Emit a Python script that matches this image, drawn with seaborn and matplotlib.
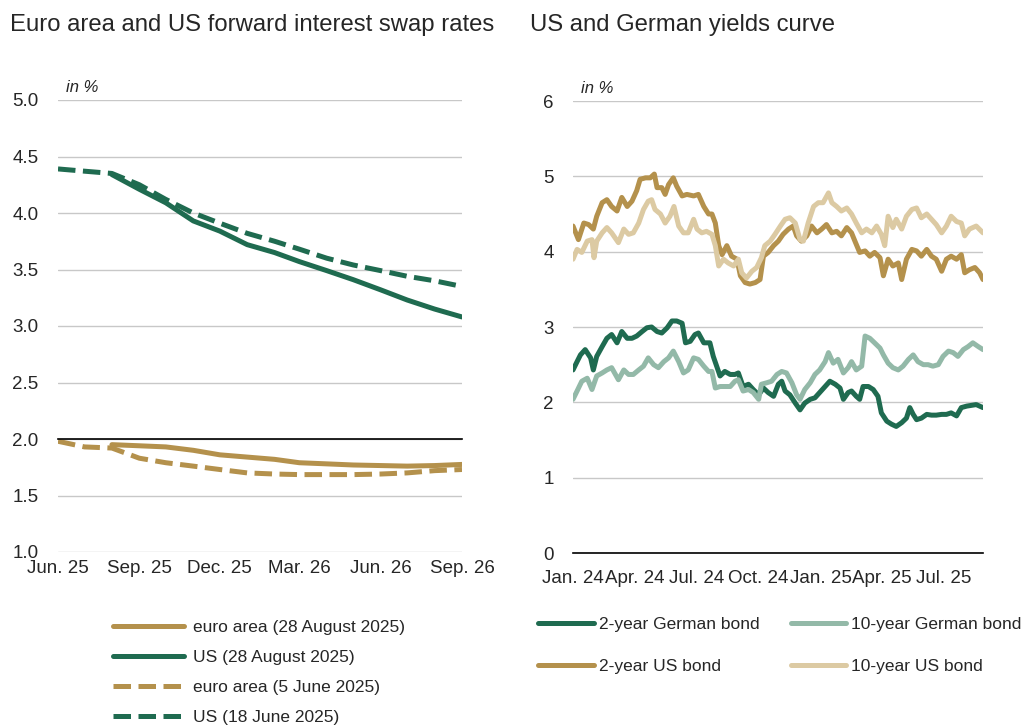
import pandas as pd
import numpy as np
import matplotlib
matplotlib.use('Agg')
import matplotlib.pyplot as plt
import matplotlib.dates as mdates
import seaborn as sns

sns.set_style('white')
plt.rcParams['font.family'] = ['Liberation Sans', 'DejaVu Sans']

GREEN = '#1f6b50'
GOLD = '#b4914c'
LGREEN = '#93b9a8'
BEIGE = '#dccaa3'

# --- left panel: forward swap rates (monthly) ---
months = pd.date_range('2025-06-01', '2026-09-01', freq='MS')
us_jun = [4.39, 4.37, 4.35, 4.25, 4.12, 4.00, 3.91, 3.82, 3.75, 3.68, 3.60, 3.54, 3.49, 3.44, 3.40, 3.35]
us_aug = [4.34, 4.21, 4.09, 3.93, 3.84, 3.72, 3.65, 3.57, 3.49, 3.41, 3.32, 3.23, 3.15, 3.08]
ea_jun = [1.98, 1.93, 1.92, 1.83, 1.79, 1.76, 1.73, 1.70, 1.69, 1.685, 1.685, 1.685, 1.69, 1.70, 1.72, 1.73]
ea_aug = [1.95, 1.94, 1.93, 1.90, 1.86, 1.84, 1.82, 1.79, 1.78, 1.77, 1.765, 1.76, 1.765, 1.775]

# --- right panel: bond yields (days since 1 Jan 2024, %) ---
us2_days = [0, 8, 16, 23, 30, 35, 43, 50, 57, 65, 72, 80, 87, 94, 99, 107, 114, 120, 124, 131,
            136, 141, 148, 153, 161, 168, 178, 185, 193, 200, 205, 210, 215, 220, 227, 234, 242, 247, 254, 261,
            269, 276, 281, 288, 296, 303, 310, 318, 325, 330, 337, 345, 352, 360, 367, 374, 382, 389, 396, 404,
            411, 416, 423, 431, 438, 445, 453, 458, 465, 472, 480, 485, 492, 500, 507, 514, 522, 529, 536, 544,
            551, 558, 566, 573, 578, 585, 593, 600, 605]
us2_vals = [4.34, 4.16, 4.38, 4.36, 4.30, 4.47, 4.65, 4.69, 4.60, 4.54, 4.72, 4.60, 4.67, 4.81, 4.96, 4.98, 4.98, 5.03, 4.85, 4.85,
            4.76, 4.89, 4.98, 4.87, 4.74, 4.76, 4.74, 4.76, 4.60, 4.50, 4.50, 4.38, 4.08, 3.96, 4.08, 3.94, 3.90, 3.68, 3.59, 3.57,
            3.59, 3.63, 3.94, 3.99, 4.08, 4.14, 4.23, 4.30, 4.34, 4.21, 4.14, 4.21, 4.34, 4.25, 4.30, 4.36, 4.25, 4.27, 4.21, 4.32,
            4.25, 4.14, 3.99, 4.01, 3.94, 3.99, 3.92, 3.68, 3.90, 3.81, 3.85, 3.63, 3.90, 4.03, 4.01, 3.94, 4.03, 3.94, 3.90, 3.74,
            3.90, 3.94, 3.90, 3.96, 3.72, 3.76, 3.79, 3.72, 3.63]

us10_days = [0, 6, 13, 21, 28, 31, 35, 43, 50, 57, 67, 75, 82, 89, 97, 104, 111, 116, 121, 129,
             136, 143, 149, 156, 163, 170, 178, 183, 190, 197, 205, 210, 215, 222, 229, 237, 244, 249, 256, 264,
             271, 278, 283, 291, 298, 306, 313, 320, 328, 335, 340, 347, 355, 362, 369, 377, 382, 389, 396, 404,
             411, 418, 426, 433, 441, 448, 455, 460, 465, 472, 477, 485, 492, 500, 507, 514, 522, 529, 536, 544,
             551, 558, 566, 573, 578, 585, 595, 605]
us10_vals = [3.90, 4.03, 3.99, 4.14, 4.16, 3.92, 4.14, 4.25, 4.32, 4.25, 4.12, 4.30, 4.23, 4.25, 4.38, 4.56, 4.67, 4.69, 4.56, 4.50,
             4.38, 4.47, 4.60, 4.34, 4.25, 4.25, 4.43, 4.30, 4.25, 4.27, 4.23, 4.08, 3.81, 3.90, 3.85, 3.81, 3.90, 3.72, 3.65, 3.74,
             3.79, 3.92, 4.08, 4.14, 4.23, 4.34, 4.43, 4.45, 4.38, 4.16, 4.14, 4.38, 4.60, 4.65, 4.65, 4.78, 4.65, 4.60, 4.54, 4.58,
             4.50, 4.38, 4.25, 4.30, 4.25, 4.34, 4.23, 4.08, 4.47, 4.32, 4.43, 4.30, 4.47, 4.56, 4.58, 4.45, 4.50, 4.43, 4.36, 4.25,
             4.34, 4.47, 4.40, 4.38, 4.21, 4.30, 4.34, 4.25]

de2_days = [0, 6, 11, 18, 26, 30, 35, 43, 50, 57, 65, 72, 80, 87, 94, 102, 109, 116, 124, 131,
            139, 146, 153, 161, 166, 173, 180, 185, 193, 202, 207, 212, 217, 224, 232, 239, 244, 251, 259, 266,
            274, 281, 288, 296, 303, 308, 313, 320, 328, 335, 342, 350, 357, 364, 372, 379, 387, 394, 399, 406,
            411, 418, 423, 428, 436, 443, 450, 455, 463, 470, 477, 485, 492, 497, 502, 507, 514, 522, 529, 536,
            544, 551, 558, 566, 573, 581, 588, 595, 600, 605]
de2_vals = [2.43, 2.54, 2.63, 2.70, 2.59, 2.43, 2.61, 2.74, 2.85, 2.90, 2.79, 2.94, 2.85, 2.85, 2.88, 2.94, 2.99, 3.00, 2.94, 2.92,
            2.99, 3.08, 3.08, 3.05, 2.79, 2.81, 2.90, 2.92, 2.79, 2.79, 2.61, 2.48, 2.35, 2.41, 2.37, 2.37, 2.39, 2.21, 2.24, 2.17,
            2.10, 2.19, 2.13, 2.08, 2.24, 2.28, 2.15, 2.10, 1.99, 1.90, 1.99, 2.04, 2.06, 2.13, 2.21, 2.28, 2.24, 2.19, 2.04, 2.13,
            2.15, 2.08, 2.04, 2.21, 2.21, 2.17, 2.08, 1.86, 1.75, 1.71, 1.68, 1.73, 1.79, 1.93, 1.84, 1.77, 1.79, 1.84, 1.83, 1.83,
            1.84, 1.84, 1.86, 1.82, 1.93, 1.95, 1.96, 1.97, 1.95, 1.93]

de10_days = [0, 6, 13, 21, 28, 35, 43, 50, 57, 67, 75, 82, 89, 97, 104, 111, 119, 126, 134, 141,
             148, 156, 163, 170, 178, 185, 193, 200, 205, 210, 217, 224, 232, 239, 244, 251, 259, 266, 274, 278,
             286, 293, 301, 308, 315, 323, 330, 335, 342, 350, 357, 364, 372, 377, 384, 391, 399, 406, 411, 418,
             426, 431, 438, 445, 453, 458, 465, 472, 480, 487, 495, 502, 509, 517, 524, 531, 539, 546, 554, 561,
             568, 576, 583, 590, 598, 605]
de10_vals = [2.04, 2.15, 2.28, 2.32, 2.17, 2.35, 2.39, 2.43, 2.46, 2.30, 2.43, 2.37, 2.37, 2.43, 2.48, 2.59, 2.50, 2.46, 2.54, 2.59,
             2.68, 2.54, 2.39, 2.43, 2.59, 2.57, 2.48, 2.41, 2.41, 2.19, 2.21, 2.21, 2.21, 2.28, 2.30, 2.15, 2.17, 2.13, 2.04, 2.24,
             2.26, 2.28, 2.37, 2.41, 2.39, 2.26, 2.10, 2.04, 2.17, 2.26, 2.37, 2.43, 2.54, 2.66, 2.52, 2.57, 2.39, 2.46, 2.54, 2.43,
             2.48, 2.88, 2.85, 2.79, 2.72, 2.63, 2.52, 2.46, 2.43, 2.48, 2.57, 2.63, 2.54, 2.50, 2.50, 2.48, 2.50, 2.61, 2.68, 2.66,
             2.61, 2.70, 2.74, 2.79, 2.74, 2.70]

start = pd.Timestamp('2024-01-01')
def to_dates(days):
    return start + pd.to_timedelta(days, unit='D')

fig = plt.figure(figsize=(10.21, 7.28), dpi=100)
ax1 = fig.add_axes([58 / 1021, 1 - 552 / 728, 404 / 1021, 452 / 728])
ax2 = fig.add_axes([573 / 1021, 1 - 553 / 728, 410 / 1021, 452 / 728])

LW = 3.6
dash = (0, (3.5, 1.5))
TICK_FS = 13.5

# left chart
sns.lineplot(x=months[-len(ea_aug):], y=ea_aug, ax=ax1, color=GOLD, lw=LW, label='euro area (28 August 2025)')
sns.lineplot(x=months[-len(us_aug):], y=us_aug, ax=ax1, color=GREEN, lw=LW, label='US (28 August 2025)')
sns.lineplot(x=months, y=ea_jun, ax=ax1, color=GOLD, lw=LW, linestyle=dash, label='euro area (5 June 2025)')
sns.lineplot(x=months, y=us_jun, ax=ax1, color=GREEN, lw=LW, linestyle=dash, label='US (18 June 2025)')

ax1.set_xlim(months[0], months[-1])
ax1.set_ylim(1.0, 5.0)
ax1.set_yticks(np.arange(1.0, 5.01, 0.5))
ax1.yaxis.set_major_formatter(matplotlib.ticker.FormatStrFormatter('%.1f'))
ax1.grid(axis='y', color='#c8c8c8', lw=1)
ax1.grid(axis='x', visible=False)
for s in ['top', 'right', 'left']:
    ax1.spines[s].set_visible(False)
ax1.spines['bottom'].set_position(('data', 2.0))
ax1.spines['bottom'].set_color('black')
ax1.spines['bottom'].set_linewidth(1.2)
ax1.xaxis.set_major_locator(mdates.MonthLocator())
ax1.tick_params(axis='x', direction='out', length=6, width=1.2, color='black', labelbottom=False)
ax1.tick_params(axis='y', length=0, pad=14, labelsize=TICK_FS)
sec = ax1.secondary_xaxis('bottom')
sec.xaxis.set_major_locator(mdates.MonthLocator(bymonth=[3, 6, 9, 12]))
sec.xaxis.set_major_formatter(mdates.DateFormatter('%b. %y'))
sec.tick_params(length=0, labelsize=TICK_FS, pad=6)
sec.spines['bottom'].set_visible(False)
ax1.set_xlabel('')
ax1.text(0.02, 1.012, 'in %', transform=ax1.transAxes, style='italic', fontsize=12, va='bottom')
ax1.legend().remove()

# right chart
sns.lineplot(x=to_dates(de2_days), y=de2_vals, ax=ax2, color=GREEN, lw=LW, label='2-year German bond')
sns.lineplot(x=to_dates(de10_days), y=de10_vals, ax=ax2, color=LGREEN, lw=LW, label='10-year German bond')
sns.lineplot(x=to_dates(us2_days), y=us2_vals, ax=ax2, color=GOLD, lw=LW, label='2-year US bond')
sns.lineplot(x=to_dates(us10_days), y=us10_vals, ax=ax2, color=BEIGE, lw=LW, label='10-year US bond')

ax2.set_xlim(pd.Timestamp('2024-01-01'), pd.Timestamp('2025-08-28'))
ax2.set_ylim(0, 6)
ax2.set_yticks(range(0, 7))
ax2.grid(axis='y', color='#c8c8c8', lw=1)
ax2.grid(axis='x', visible=False)
for s in ['top', 'right', 'left']:
    ax2.spines[s].set_visible(False)
ax2.spines['bottom'].set_color('black')
ax2.spines['bottom'].set_linewidth(1.2)
ax2.xaxis.set_major_locator(mdates.MonthLocator(bymonth=[1, 4, 7, 10]))
ax2.xaxis.set_major_formatter(mdates.DateFormatter('%b. %y'))
ax2.tick_params(axis='x', direction='out', length=6, width=1.2, color='black', labelsize=TICK_FS, pad=6)
ax2.tick_params(axis='y', length=0, pad=14, labelsize=TICK_FS)
ax2.text(0.02, 1.012, 'in %', transform=ax2.transAxes, style='italic', fontsize=12, va='bottom')
ax2.set_xlabel('')
ax2.legend().remove()

# titles
fig.text(10 / 1021, 1 - 25 / 728, 'Euro area and US forward interest swap rates', fontsize=17.2, va='center')
fig.text(530 / 1021, 1 - 25 / 728, 'US and German yields curve', fontsize=17.2, va='center')

# legends
h1, l1 = ax1.get_legend_handles_labels()
fig.legend(h1, l1, loc='upper left', bbox_to_anchor=(113 / 1021, 1 - 620 / 728), frameon=False,
           fontsize=12.5, handlelength=4.1, handletextpad=0.5, labelspacing=0.85, borderpad=0, borderaxespad=0)
h2, l2 = ax2.get_legend_handles_labels()
order = [0, 2, 1, 3]
fig.legend([h2[i] for i in order], [l2[i] for i in order], loc='upper left', ncol=2,
           bbox_to_anchor=(538 / 1021, 1 - 617 / 728), frameon=False, fontsize=12.5,
           handlelength=3.2, handletextpad=0.3, labelspacing=1.55, columnspacing=1.8,
           borderpad=0, borderaxespad=0)

fig.savefig('out.png', dpi=100)
